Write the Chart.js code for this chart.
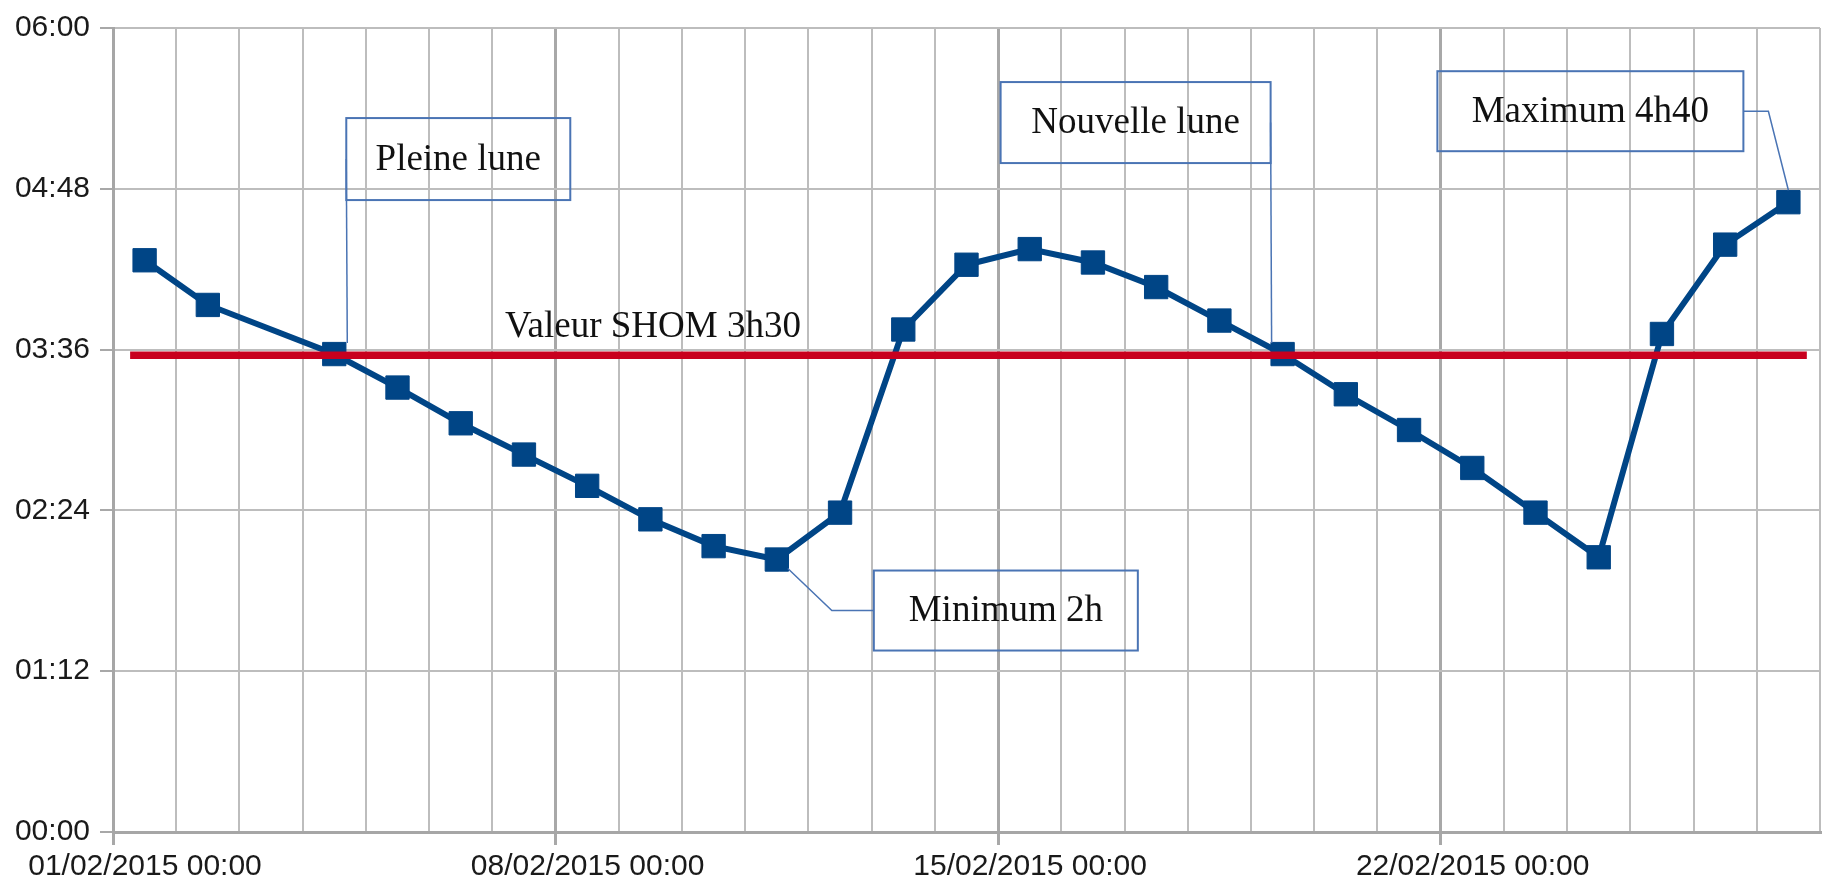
<!DOCTYPE html>
<html>
<head>
<meta charset="utf-8">
<script src="https://cdn.jsdelivr.net/npm/chart.js@4/dist/chart.umd.min.js"></script>
<style>
  html, body { margin: 0; padding: 0; background: #fff; overflow: hidden; }
  #wrap { width: 1826px; height: 889px; position: relative; }
</style>
</head>
<body>
<div id="wrap"><canvas id="chart-maree"></canvas></div>
<script>
// dates des mesures et durées (en minutes)
const startDate = '2015-02-01T00:00';
const endDate = '2015-02-28T00:00';
const dates = [
  '2015-02-01T12:00', '2015-02-02T12:00', '2015-02-04T12:00', '2015-02-05T12:00',
  '2015-02-06T12:00', '2015-02-07T12:00', '2015-02-08T12:00', '2015-02-09T12:00',
  '2015-02-10T12:00', '2015-02-11T12:00', '2015-02-12T12:00', '2015-02-13T12:00',
  '2015-02-14T12:00', '2015-02-15T12:00', '2015-02-16T12:00', '2015-02-17T12:00',
  '2015-02-18T12:00', '2015-02-19T12:00', '2015-02-20T12:00', '2015-02-21T12:00',
  '2015-02-22T12:00', '2015-02-23T12:00', '2015-02-24T12:00', '2015-02-25T12:00',
  '2015-02-26T12:00', '2015-02-27T12:00'
];
const durations = [
  256, 236, 214, 199, 183, 169, 155, 140, 128, 122, 143, 225, 254,
  261, 255, 244, 229, 214, 196, 180, 163, 143, 123, 223, 263, 282
];

// valeur SHOM (ligne rouge)
const refDates = ['2015-02-01T06:30', '2015-02-27T19:00'];
const refValue = 213.5;
const refLabel = 'Valeur SHOM 3h30';

// étiquettes des axes
const xTickLabels = ['01/02/2015 00:00', '08/02/2015 00:00', '15/02/2015 00:00', '22/02/2015 00:00'];
const yTickLabels = ['00:00', '01:12', '02:24', '03:36', '04:48', '06:00'];

function toDays(s) {
  return (Date.parse(s) - Date.parse(startDate)) / 86400000;
}

const mesures = dates.map((d, i) => ({ x: toDays(d), y: durations[i] }));
const shom = refDates.map(d => ({ x: toDays(d), y: refValue }));

// bulles de texte (position relative au point visé)
const notes = [
  { text: 'Pleine lune', index: 2, dx: 12, dy: -236, w: 224, h: 82,
    leader: (p, b) => [[b.x, b.y + b.h / 2], [b.x + 1, p.y - 11]] },
  { text: 'Nouvelle lune', index: 17, dx: -282, dy: -272, w: 270, h: 81,
    leader: (p, b) => [[b.x + b.w, b.y + b.h / 2], [p.x - 11, p.y - 11]] },
  { text: 'Minimum 2h', index: 9, dx: 97, dy: 11, w: 264, h: 80,
    leader: (p, b) => [[p.x + 11, p.y + 9], [p.x + 55, b.y + b.h / 2], [b.x, b.y + b.h / 2]] },
  { text: 'Maximum 4h40', index: 25, dx: -351, dy: -131, w: 306, h: 80,
    leader: (p, b) => [[b.x + b.w, b.y + b.h / 2], [b.x + b.w + 25, b.y + b.h / 2], [p.x, p.y - 12]] }
];

const notesPlugin = {
  id: 'notes',
  afterDatasetsDraw(chart) {
    const ctx = chart.ctx;
    const pts = chart.getDatasetMeta(1).data;
    ctx.save();
    ctx.font = '37px "Liberation Serif"';
    ctx.textAlign = 'center';
    ctx.textBaseline = 'middle';
    notes.forEach(n => {
      const p = pts[n.index];
      const b = { x: p.x + n.dx, y: p.y + n.dy, w: n.w, h: n.h };
      ctx.strokeStyle = '#4a74b4';
      ctx.lineWidth = 2;
      ctx.strokeRect(b.x, b.y, b.w, b.h);
      ctx.lineWidth = 1.5;
      ctx.beginPath();
      n.leader(p, b).forEach((q, i) => i ? ctx.lineTo(q[0], q[1]) : ctx.moveTo(q[0], q[1]));
      ctx.stroke();
      ctx.fillStyle = '#111';
      ctx.fillText(n.text, b.x + b.w / 2, b.y + b.h / 2 + 1);
    });
    // texte de la ligne SHOM
    const xs = chart.scales.x, ys = chart.scales.y;
    ctx.textAlign = 'left';
    ctx.textBaseline = 'alphabetic';
    ctx.fillText(refLabel, xs.getPixelForValue(6.2), ys.getPixelForValue(refValue) - 18);
    ctx.restore();
  }
};

const config = {
  type: 'line',
  data: {
    datasets: [
      {
        data: shom,
        borderColor: '#c8001e',
        borderWidth: 7.5,
        pointRadius: 0,
        order: 0
      },
      {
        data: mesures,
        borderColor: '#004586',
        backgroundColor: '#004586',
        borderWidth: 6,
        pointStyle: 'rect',
        pointRadius: 16.5,
        pointBorderWidth: 1,
        pointBackgroundColor: '#004586',
        pointBorderColor: '#004586',
        order: 1
      }
    ]
  },
  options: {
    responsive: true,
    maintainAspectRatio: false,
    animation: false,
    layout: { autoPadding: false, padding: { top: 28, right: 6, left: 0, bottom: 0 } },
    plugins: {
      legend: { display: false },
      tooltip: { enabled: false }
    },
    scales: {
      x: {
        type: 'linear',
        min: toDays(startDate),
        max: toDays(endDate),
        afterFit(scale) {
          scale.height = 57;
          scale.paddingLeft = 0;
          scale.paddingRight = 0;
        },
        ticks: {
          stepSize: 1,
          autoSkip: false,
          maxRotation: 0,
          labelOffset: 32,
          padding: 4,
          color: '#1a1a1a',
          font: { family: '"Liberation Sans"', size: 30 },
          callback: (v) => {
            const d = Math.round(v);
            return d % 7 === 0 ? (xTickLabels[d / 7] || '') : '';
          }
        },
        grid: {
          color: (c) => (c.tick && Math.round(c.tick.value) % 7 === 0) ? '#a8a8a8' : '#bdbdbd',
          lineWidth: (c) => (c.tick && Math.round(c.tick.value) % 7 === 0) ? 3 : 2,
          tickLength: 13,
          tickColor: (c) => (c.tick && Math.round(c.tick.value) % 7 === 0) ? '#a8a8a8' : 'rgba(0,0,0,0)'
        },
        border: { color: '#a6a6a6', width: 3 }
      },
      y: {
        min: 0,
        max: 360,
        afterFit(scale) {
          scale.width = 113;
          scale.paddingTop = 0;
          scale.paddingBottom = 0;
        },
        ticks: {
          stepSize: 72,
          padding: 10,
          color: '#1a1a1a',
          font: { family: '"Liberation Sans"', size: 30 },
          callback: (v) => yTickLabels[Math.round(v / 72)]
        },
        grid: {
          color: '#bdbdbd',
          lineWidth: 2,
          tickLength: 13,
          tickColor: '#a8a8a8'
        },
        border: { color: '#a6a6a6', width: 3 }
      }
    }
  },
  plugins: [notesPlugin]
};

const chartMaree = new Chart(document.getElementById('chart-maree'), config);
</script>
</body>
</html>
